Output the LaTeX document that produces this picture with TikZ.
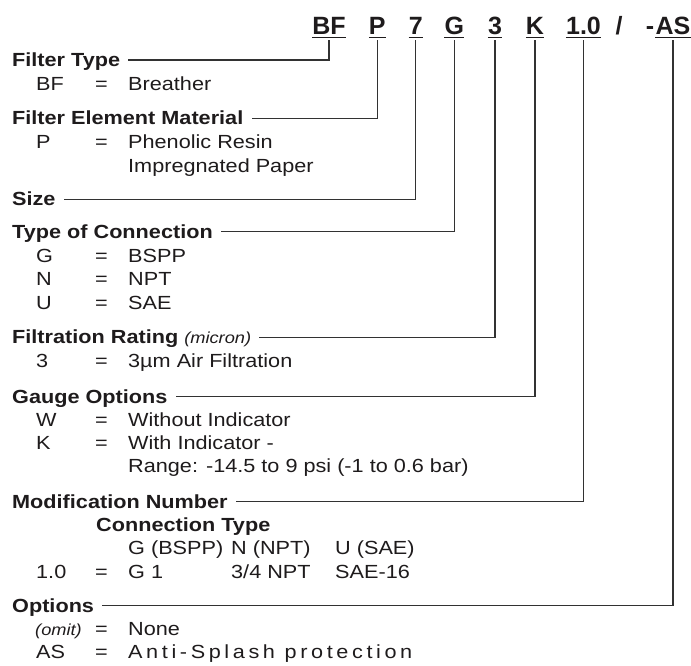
\documentclass[tikz,border=0pt]{standalone}
\usepackage{fontspec}
\setmainfont{Liberation Sans}[FakeStretch=1.14]
\newfontfamily\codefont{Liberation Sans}
\newfontfamily\trackfont{Liberation Sans}[FakeStretch=1.14, LetterSpace=19]
\usepackage{xcolor}
\usepackage{tikz}
\usetikzlibrary{calc,positioning}
\definecolor{ink}{RGB}{30,27,28}
\definecolor{rule}{RGB}{50,50,50}
\tikzset{
  hdr/.style={anchor=base west, inner sep=0pt, text=ink,
    font=\fontsize{19}{22}\selectfont\bfseries},
  txt/.style={anchor=base west, inner sep=0pt, text=ink,
    font=\fontsize{19}{22}\selectfont},
  note/.style={font=\fontsize{16}{19}\selectfont\itshape},
  code/.style={anchor=base, inner sep=0pt, text=ink,
    font=\codefont\fontsize{25}{28}\selectfont\bfseries},
  lead/.style={draw=rule, line width=1.1pt},
  uline/.style={draw=ink, line width=1.6pt}
}

\begin{document}
\begin{tikzpicture}[x=1pt, y=-1pt]
    \useasboundingbox (0,0) rectangle (691,665);
    % part number
    \node[code] (cBF) at (329,34.3) {BF};
    \node[code] (cP) at (377.3,34.3) {P};
    \node[code] (c7) at (415.7,34.3) {7};
    \node[code] (cG) at (454.3,34.3) {G};
    \node[code] (c3) at (495,34.3) {3};
    \node[code] (cK) at (535,34.3) {K};
    \node[code] (c10) at (583.5,34.3) {1.0};
    \node[code] (cSl) at (619,34.3) {/};
    \node[code] (cDash) at (650,34.3) {-};
    \node[code] (cAS) at (673,34.3) {AS};
    \draw[uline] ($(cBF.base west)+(0,3)$) -- ($(cBF.base east)+(0,3)$);
    \draw[uline] ($(cP.base west)+(0,3)$) -- ($(cP.base east)+(0,3)$);
    \draw[uline] ($(c7.base west)+(0,3)$) -- ($(c7.base east)+(0,3)$);
    \draw[uline] ($(cG.base west)+(0,3)$) -- ($(cG.base east)+(0,3)$);
    \draw[uline] ($(c3.base west)+(0,3)$) -- ($(c3.base east)+(0,3)$);
    \draw[uline] ($(cK.base west)+(0,3)$) -- ($(cK.base east)+(0,3)$);
    \draw[uline] ($(c10.base west)+(0,3)$) -- ($(c10.base east)+(0,3)$);
    \draw[uline] ($(cAS.base west)+(0,3)$) -- ($(cAS.base east)+(0,3)$);

    % filter type
    \node[hdr] (ft) at (12,66.5) {Filter Type};
    \node[txt] (bfK) at (36,90.5) {BF};
    \node[txt] (bfE) at (95,90.5) {=};
    \node[txt] (bfD) at (128,90.5) {Breather};

    % element material
    \node[hdr] (fem) at (12,124.8) {Filter Element Material};
    \node[txt] (pK) at (36,148.5) {P};
    \node[txt] (pE) at (95,148.5) {=};
    \node[txt] (pD) at (128,148.5) {Phenolic Resin};
    \node[txt] (pD2) at (128,172) {Impregnated Paper};

    % size
    \node[hdr] (sz) at (12,205.8) {Size};

    % connection
    \node[hdr] (toc) at (12,238.2) {Type of Connection};
    \node[txt] (gK) at (36,262) {G};
    \node[txt] (gE) at (95,262) {=};
    \node[txt] (gD) at (128,262) {BSPP};
    \node[txt] (nK) at (36,285.5) {N};
    \node[txt] (nE) at (95,285.5) {=};
    \node[txt] (nD) at (128,285.5) {NPT};
    \node[txt] (uK) at (36,309) {U};
    \node[txt] (uE) at (95,309) {=};
    \node[txt] (uD) at (128,309) {SAE};

    % filtration
    \node[hdr] (fr) at (12,343.8) {Filtration Rating {\mdseries\fontsize{16}{19}\selectfont\itshape (micron)}};
    \node[txt] (mK) at (36,367.5) {3};
    \node[txt] (mE) at (95,367.5) {=};
    \node[txt] (mD) at (128,367.5) {3µm Air Filtration};

    % gauge
    \node[hdr] (go) at (12,403) {Gauge Options};
    \node[txt] (wK) at (36,426.3) {W};
    \node[txt] (wE) at (95,426.3) {=};
    \node[txt] (wD) at (128,426.3) {Without Indicator};
    \node[txt] (kK) at (36,449.6) {K};
    \node[txt] (kE) at (95,449.6) {=};
    \node[txt] (kD) at (128,449.6) {With Indicator -};
    \node[txt] (kD2) at (128,472.9) {Range: -14.5 to 9 psi (-1 to 0.6 bar)};

    % modification
    \node[hdr] (mn) at (12,508.2) {Modification Number};
    \node[hdr] (ct) at (96,531.5) {Connection Type};
    \node[txt] (ctG) at (128,554.8) {G (BSPP)};
    \node[txt] (ctN) at (231,554.8) {N (NPT)};
    \node[txt] (ctU) at (335,554.8) {U (SAE)};
    \node[txt] (vK) at (36,578.1) {1.0};
    \node[txt] (vE) at (95,578.1) {=};
    \node[txt] (vG) at (128,578.1) {G 1};
    \node[txt] (vN) at (231,578.1) {3/4 NPT};
    \node[txt] (vU) at (335,578.1) {SAE-16};

    % options
    \node[hdr] (op) at (12,612) {Options};
    \node[txt, note] (oK) at (35,635) {(omit)};
    \node[txt] (oE) at (95,635) {=};
    \node[txt] (oD) at (128,635) {None};
    \node[txt] (asK) at (36,658) {AS};
    \node[txt] (asE) at (95,658) {=};
    \node[txt, font=\trackfont\fontsize{19}{22}\selectfont] (asD) at (128,658) {Anti-Splash protection};

    % leaders
    \draw[lead] ($(cBF.base)+(0,6)$) |- ($(ft.base east)+(8,-6.5)$);
    \draw[lead] ($(cP.base)+(0,6)$) |- ($(fem.base east)+(8,-6.5)$);
    \draw[lead] ($(c7.base)+(0,6)$) |- ($(sz.base east)+(8,-6.5)$);
    \draw[lead] ($(cG.base)+(0,6)$) |- ($(toc.base east)+(8,-6.5)$);
    \draw[lead] ($(c3.base)+(0,6)$) |- ($(fr.base east)+(8,-6.5)$);
    \draw[lead] ($(cK.base)+(0,6)$) |- ($(go.base east)+(8,-6.5)$);
    \draw[lead] ($(c10.base)+(0,6)$) |- ($(mn.base east)+(8,-6.5)$);
    \draw[lead] ($(cAS.base)+(0,6)$) |- ($(op.base east)+(8,-6.5)$);
  \end{tikzpicture}
\end{document}
